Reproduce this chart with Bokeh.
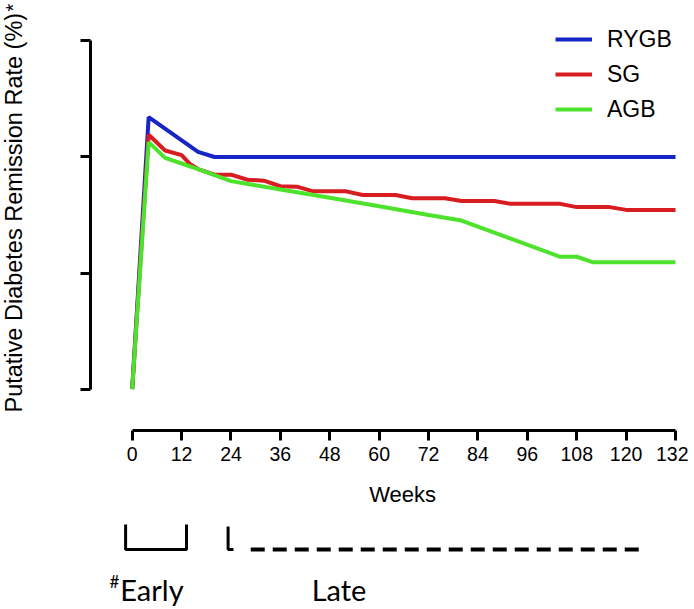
import math
from bokeh.plotting import figure
from bokeh.models import Range1d, FixedTicker, Legend, LegendItem
from bokeh.layouts import column, row
from bokeh.core.properties import value
from bokeh.embed import file_html
from bokeh.resources import INLINE

# ---- data ----
week_ticks = [0, 12, 24, 36, 48, 60, 72, 84, 96, 108, 120, 132]
rate_ticks = [0, 25, 50, 75]

rygb_weeks = [0, 4, 16, 20, 132]
rygb_rate = [0, 58.6, 51.1, 50.0, 50.0]

sg_weeks = [0, 4, 8, 12, 14, 16, 20, 24, 28, 32, 36, 40, 44, 52, 56, 64, 68,
            76, 80, 88, 92, 104, 108, 116, 120, 132]
sg_rate = [0, 54.8, 51.4, 50.4, 48.5, 47.4, 46.2, 46.2, 45.1, 44.9, 43.7, 43.6,
           42.6, 42.6, 41.8, 41.8, 41.1, 41.1, 40.5, 40.5, 39.9, 39.9, 39.2,
           39.2, 38.6, 38.6]

agb_weeks = [0, 4, 8, 12, 16, 20, 24, 36, 48, 60, 72, 80, 104, 108, 112, 132]
agb_rate = [0, 53.2, 49.8, 48.6, 47.4, 46.1, 44.8, 43.0, 41.2, 39.4, 37.5,
            36.3, 28.5, 28.5, 27.3, 27.3]

series_names = ["RYGB", "SG", "AGB"]
series_colors = ["#1626C6", "#D81C1F", "#4DE32C"]

early_period = [-1.6, 13.2]
late_period = [23.3, 124.3]
late_dash_start = 28.8

y_title = "Putative Diabetes Remission Rate (%)"
x_title = "Weeks"

FONT = "Liberation Sans"

# ---- left strip holding the rotated y title ----
pl = figure(width=30, height=609, x_range=Range1d(0, 30), y_range=Range1d(0, 609),
            output_backend="svg", toolbar_location=None,
            x_axis_location=None, y_axis_location=None,
            min_border_left=0, min_border_right=0, min_border_top=0, min_border_bottom=0)
pl.outline_line_color = None
pl.grid.visible = False
pl.text(x=[13], y=[197], text=[y_title], angle=math.pi / 2,
        text_font=value(FONT), text_font_size="23.5px", text_align="left",
        text_baseline="middle", text_color="black")
pl.text(x=[12], y=[598], text=["*"], angle=math.pi / 2,
        text_font=value(FONT), text_font_size="20px", text_align="left",
        text_baseline="middle", text_color="black")

# ---- main chart ----
p = figure(width=658, height=483,
           x_range=Range1d(-10.13, 133.21), y_range=Range1d(-8.94, 81.57),
           output_backend="svg", toolbar_location=None,
           min_border_left=60, min_border_right=8,
           min_border_top=10, min_border_bottom=53)
p.outline_line_color = None
p.grid.visible = False

p.xaxis.ticker = FixedTicker(ticks=week_ticks)
p.xaxis.bounds = (0, 132)
p.yaxis.ticker = FixedTicker(ticks=rate_ticks)
p.yaxis.bounds = (0, 75)
p.yaxis.major_label_overrides = {t: "" for t in rate_ticks}
for ax in [p.xaxis[0], p.yaxis[0]]:
    ax.axis_line_width = 3
    ax.axis_line_color = "black"
    ax.major_tick_line_width = 3
    ax.major_tick_line_color = "black"
    ax.major_tick_out = 10
    ax.major_tick_in = 0
    ax.minor_tick_line_color = None
    ax.major_label_text_font = FONT
    ax.major_label_text_font_size = "19.5px"
    ax.major_label_text_color = "black"
p.xaxis.major_label_standoff = 6

renderers = []
for wk, rt, col in [(rygb_weeks, rygb_rate, series_colors[0]),
                    (sg_weeks, sg_rate, series_colors[1]),
                    (agb_weeks, agb_rate, series_colors[2])]:
    renderers.append(p.line(wk, rt, line_width=4, line_color=col))

legend = Legend(items=[LegendItem(label=n, renderers=[r]) for n, r in zip(series_names, renderers)],
                location=(465, 306))
legend.margin = 0
legend.padding = 6
legend.spacing = 5
legend.glyph_width = 37
legend.glyph_height = 30
legend.label_height = 30
legend.label_standoff = 15
legend.label_text_font = FONT
legend.label_text_font_size = "23px"
legend.label_text_color = "black"
legend.border_line_color = None
legend.background_fill_alpha = 0
p.add_layout(legend, "center")

# ---- period annotation strip ----
p2 = figure(width=658, height=126, x_range=p.x_range, y_range=Range1d(609, 483),
            output_backend="svg", toolbar_location=None,
            x_axis_location=None, y_axis_location=None,
            min_border_left=60, min_border_right=8,
            min_border_top=0, min_border_bottom=0)
p2.outline_line_color = None
p2.grid.visible = False

p2.text(x=[65.7], y=[493.5], text=[x_title], text_font=value(FONT),
        text_font_size="22px", text_align="center", text_baseline="middle",
        text_color="black")

e0, e1 = early_period
p2.line([e0, e0, e1, e1], [524, 549, 549, 524], line_width=3, line_color="black")
l0, l1 = late_period
p2.line([l0, l0, l0 + 1.3], [526, 549, 549], line_width=3, line_color="black")
p2.line([late_dash_start, l1], [549, 549], line_width=4, line_color="black",
        line_dash="14 8")

p2.text(x=[e0 - 3.9], y=[581], text=["#"], text_font=value("Lato"),
        text_font_size="17px", text_align="left", text_baseline="middle",
        text_color="black")
p2.text(x=[e0 - 1.3], y=[589], text=["Early"], text_font=value("Lato"),
        text_font_size="29px", text_align="left", text_baseline="middle",
        text_color="black")
p2.text(x=[43.6], y=[589], text=["Late"], text_font=value("Lato"),
        text_font_size="29px", text_align="left", text_baseline="middle",
        text_color="black")

layout = row(pl, column(p, p2))
open("out.html", "w").write(file_html(layout, INLINE))
